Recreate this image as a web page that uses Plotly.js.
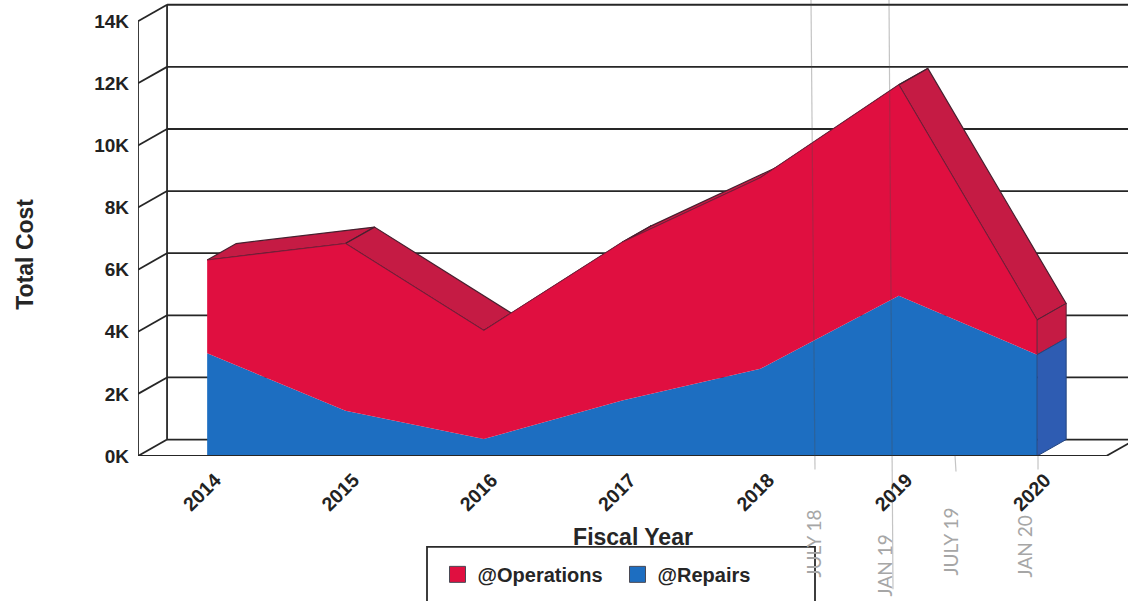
<!DOCTYPE html>
<html>
<head>
<meta charset="utf-8">
<script src="https://cdn.plot.ly/plotly-3.0.1.min.js"></script>
<style>html,body{margin:0;padding:0;background:#fff;overflow:hidden}</style>
</head>
<body>
<div id="chart" style="width:1128px;height:601px"></div>
<script>
// Cost by fiscal year, in dollars
const fiscalYears = [2014, 2015, 2016, 2017, 2018, 2019, 2020];
const repairsCost = [3310, 1460, 550, 1790, 2810, 5160, 3260];
const operationsCost = [3000, 5380, 3490, 5090, 6150, 6790, 1120];
const costTicks = [0, 2000, 4000, 6000, 8000, 10000, 12000, 14000];
const costTickLabels = ['0K', '2K', '4K', '6K', '8K', '10K', '12K', '14K'];
const yearLabels = ['2014', '2015', '2016', '2017', '2018', '2019', '2020'];
const seriesNames = ['@Operations', '@Repairs'];

// Notes pencilled onto the printout beneath the axis
const noteLabels = ['JULY 18', 'JAN 19', 'JULY 19', 'JAN 20'];

// Pseudo-3D box: the back wall sits behind the front plane by this offset
const depthYears = 0.21;
const depthCost = 530;
const xStart = 2013.5;
const xFloorEnd = 2020.5;
const xMax = 2020.657;
const yMax = 14683;

const RED = '#e00f40', RED_SHADE = '#c51b44', BLUE = '#1d6ec1', BLUE_SHADE = '#2e5cb2';
const EDGE = '#47202f', WALL = '#262626';
const FONT = '"Liberation Sans", Arial, sans-serif';

const totals = repairsCost.map((v, i) => v + operationsCost[i]);
const structural = {hoverinfo: 'skip', showlegend: false, mode: 'lines'};

// Back wall gridlines, left wall and floor, joined into one path with gaps
const wallX = [], wallY = [];
function seg(points) {
  points.forEach(p => { wallX.push(p[0]); wallY.push(p[1]); });
  wallX.push(null); wallY.push(null);
}
const topTick = costTicks[costTicks.length - 1];
costTicks.forEach(t => {
  seg([[xStart + depthYears, t + depthCost], [xMax + 1, t + depthCost]]);
  seg([[xStart, t], [xStart + depthYears, t + depthCost]]);
});
seg([[xStart, 0], [xStart, topTick]]);
seg([[xStart + depthYears, depthCost], [xStart + depthYears, topTick + depthCost]]);
seg([[xFloorEnd, 0], [xFloorEnd + depthYears, depthCost]]);

const traces = [Object.assign({
  x: wallX, y: wallY, line: {color: WALL, width: 1.8}, connectgaps: false
}, structural)];

// Upper faces of the extruded area, painted before the front plane covers them
for (let i = 0; i < fiscalYears.length - 1; i++) {
  const a = fiscalYears[i], b = fiscalYears[i + 1];
  traces.push(Object.assign({
    x: [a, b, b + depthYears, a + depthYears, a],
    y: [totals[i], totals[i + 1], totals[i + 1] + depthCost, totals[i] + depthCost, totals[i]],
    fill: 'toself', fillcolor: RED_SHADE, line: {color: EDGE, width: 1.2}
  }, structural));
}

// Front plane: stacked areas
traces.push(Object.assign({
  x: fiscalYears, y: repairsCost, stackgroup: 'cost', fillcolor: BLUE, line: {color: BLUE, width: 0}
}, structural));
traces.push(Object.assign({
  x: fiscalYears, y: operationsCost, stackgroup: 'cost', fillcolor: RED, line: {color: '#7a1d3a', width: 0.8}
}, structural));

// End cap at the last year
const last = fiscalYears.length - 1, xl = fiscalYears[last];
traces.push(Object.assign({
  x: [xl, xl + depthYears, xl + depthYears, xl, xl],
  y: [repairsCost[last], repairsCost[last] + depthCost, totals[last] + depthCost, totals[last], repairsCost[last]],
  fill: 'toself', fillcolor: RED_SHADE, line: {color: '#5a2238', width: 1}
}, structural));
traces.push(Object.assign({
  x: [xl, xl + depthYears, xl + depthYears, xl, xl],
  y: [0, depthCost, repairsCost[last] + depthCost, repairsCost[last], 0],
  fill: 'toself', fillcolor: BLUE_SHADE, line: {color: '#23457f', width: 1}
}, structural));

// Front edge of the floor
traces.push(Object.assign({
  x: [xStart, xFloorEnd], y: [0, 0], line: {color: WALL, width: 1.8}
}, structural));

// Legend keys
[[seriesNames[0], RED], [seriesNames[1], BLUE]].forEach(k => {
  traces.push({
    x: [null], y: [null], name: k[0], mode: 'markers', hoverinfo: 'skip',
    marker: {symbol: 'square', size: 20, color: k[1], line: {color: '#4a4a55', width: 1}}
  });
});

// Helpers for placing page-level items by pixel
const plotL = 138, plotW = 990, plotB = 456.5;
const px = v => (v - plotL) / plotW;
const py = v => (plotB - v) / plotB;

const pencil = 'rgba(75,75,75,0.33)';
function mark(x0, y0, x1, y1) {
  return {type: 'line', xref: 'paper', yref: 'paper', x0: px(x0), x1: px(x1), y0: py(y0), y1: py(y1),
    line: {color: pencil, width: 1.2}, layer: 'above'};
}

const notePos = [[813, 544], [884, 566], [950, 542], [1024, 547]];

const layout = {
  width: 1128, height: 601,
  margin: {l: plotL, r: 0, t: 0, b: 601 - plotB, autoexpand: false},
  paper_bgcolor: '#ffffff', plot_bgcolor: 'rgba(0,0,0,0)',
  font: {family: FONT, color: '#222222'},
  showlegend: true,
  legend: {
    orientation: 'h', x: px(437.5), xanchor: 'left', y: py(575), yanchor: 'middle',
    bgcolor: 'rgba(0,0,0,0)', font: {size: 20, weight: 700, color: '#262626'},
    entrywidth: 135, entrywidthmode: 'pixels', traceorder: 'normal'
  },
  xaxis: {
    range: [xStart, xMax], tickmode: 'array', tickvals: fiscalYears, ticktext: yearLabels,
    tickangle: -45, tickfont: {size: 19.5, weight: 700, color: '#222222'},
    ticklabelshift: 8, ticklabelstandoff: 8,
    showgrid: false, zeroline: false, showline: false, ticks: '', automargin: false,
    title: {text: 'Fiscal Year', font: {size: 23, weight: 700, color: '#262626'}, standoff: 14}
  },
  yaxis: {
    range: [0, yMax], tickmode: 'array', tickvals: costTicks, ticktext: costTickLabels,
    tickfont: {size: 19, weight: 700, color: '#222222'}, ticklabelstandoff: 8,
    showgrid: false, zeroline: false, showline: false, ticks: '', automargin: false
  },
  shapes: [
    {type: 'rect', xref: 'paper', yref: 'paper', x0: px(427), x1: px(815), y0: py(640), y1: py(547.5),
      line: {color: '#2a2a2a', width: 1.8}, fillcolor: 'rgba(0,0,0,0)', layer: 'below'},
    mark(811, 0, 815, 470),
    mark(889, 0, 893, 590),
    mark(955, 456, 956, 472),
    mark(1038, 456, 1038, 470)
  ],
  annotations: [
    {text: 'Total Cost', xref: 'paper', yref: 'paper', x: px(25), y: py(255), textangle: -90,
      showarrow: false, xanchor: 'center', yanchor: 'middle', font: {size: 23, weight: 700, color: '#262626'}}
  ].concat(noteLabels.map((t, i) => ({
    text: t, xref: 'paper', yref: 'paper', x: px(notePos[i][0]), y: py(notePos[i][1]), textangle: -90,
    showarrow: false, xanchor: 'center', yanchor: 'middle',
    font: {family: 'Lato, sans-serif', size: 19, color: '#a6a6a6'}
  })))
};

Plotly.newPlot('chart', traces, layout, {displayModeBar: false, staticPlot: true});
</script>
</body>
</html>
